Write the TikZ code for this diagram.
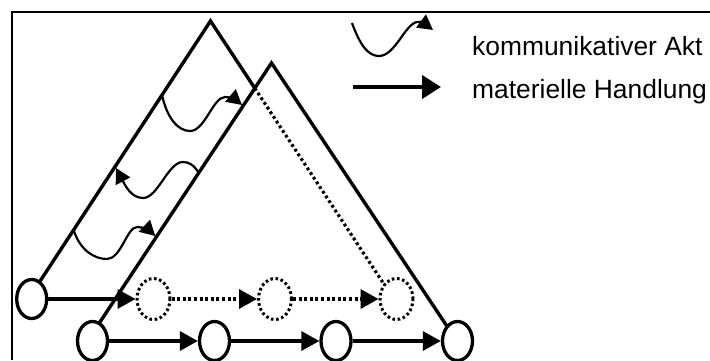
\documentclass[tikz,border=0pt]{standalone}
\usepackage{fontspec}
\setmainfont{Liberation Sans}
\usetikzlibrary{arrows.meta,shapes.geometric,calc}
\begin{document}
\begin{tikzpicture}[x=1pt,y=-1pt,
  state/.style={draw,ellipse,line width=3.3pt,minimum width=30pt,minimum height=39pt,inner sep=0pt},
  ghost/.style={draw,ellipse,line width=3pt,minimum width=33pt,minimum height=41pt,inner sep=0pt,dash pattern=on 2.6pt off 2.6pt},
  side/.style={line width=3.4pt,line join=miter},
  dotside/.style={line width=3.2pt,dash pattern=on 2.8pt off 2.8pt},
  mat/.style={line width=3.3pt,-{Triangle[length=18pt,width=19pt]}},
  matdot/.style={mat,dash pattern=on 3pt off 2.6pt},
  kom/.style={line width=2.2pt,-{Triangle[length=15pt,width=16pt]}},
  lbl/.style={anchor=base west,font=\fontsize{26.4}{32}\selectfont,inner sep=0pt}
]
\useasboundingbox (0,0) rectangle (710,360);
% frame
\draw[line width=1.4pt] (12,360) -- (12,12) -- (710,12);

% triangle corners
\coordinate (top1) at (210.5,21);
\coordinate (top2) at (271.5,63);
\coordinate (f1) at (39.5,282);
\coordinate (f2) at (99,323.5);
\coordinate (f3) at (384.5,285);
\coordinate (f4) at (447.5,327);
\coordinate (X) at (intersection of top1--f3 and top2--f2);

\draw[side] (f1) -- (top1) -- (X);
\draw[dotside] (X) -- (f3);
\draw[side] (f2) -- (top2) -- (f4);

% communicative acts
\coordinate (w1s) at (162,95);
\coordinate (w1e) at (242,105);
\coordinate (w2s) at (198.7,173);
\coordinate (w2e) at (116,168);
\coordinate (w3s) at (73.6,230);
\coordinate (w3e) at (155.3,236);
\draw[kom] (w1s) .. controls (167,118) and (178,131) .. (190,131)
  .. controls (205,131) and (213,97) .. (225,97)
  .. controls (231,97) and (236,100) .. (w1e);
\draw[kom] (w2s) .. controls (194,165) and (189,162) .. (183,162)
  .. controls (168,162) and (158,198) .. (143,198)
  .. controls (131,198) and (125,185) .. (w2e);
\draw[kom] (w3s) .. controls (80,250) and (94,259) .. (107,259)
  .. controls (121,259) and (127,227) .. (137,227)
  .. controls (144,227) and (150,231) .. (w3e);

% states
\node[state] (A) at (31.7,299) {};
\node[ghost] (P1) at (153.5,299) {};
\node[ghost] (P2) at (275,299) {};
\node[ghost] (P3) at (396.5,299) {};
\node[state] (B) at (92.5,341) {};
\node[state] (C) at (214.5,341) {};
\node[state] (D) at (336,341) {};
\node[state] (E) at (457.5,341) {};

\draw[mat] (A) -- (P1);
\draw[matdot] (P1) -- (P2);
\draw[matdot] (P2) -- (P3);
\draw[mat] (B) -- (C);
\draw[mat] (C) -- (D);
\draw[mat] (D) -- (E);

% legend
\coordinate (l1s) at (352,23);
\coordinate (l1e) at (433,30);
\draw[line width=2.2pt,-{Triangle[length=15pt,width=16pt]}] (l1s) .. controls (360,45) and (368,56) .. (379,56)
  .. controls (395,56) and (405,24) .. (417,22)
  .. controls (421,21) and (425,24) .. (l1e);
\coordinate (l2s) at (353,87);
\coordinate (l2e) at (441,87);
\draw[line width=4pt,-{Triangle[length=19pt,width=23pt]}] (l2s) -- (l2e);
\node[lbl] (t1) at (472,55) {kommunikativer Akt};
\node[lbl] (t2) at (472,98) {materielle Handlung};
\end{tikzpicture}
\end{document}
